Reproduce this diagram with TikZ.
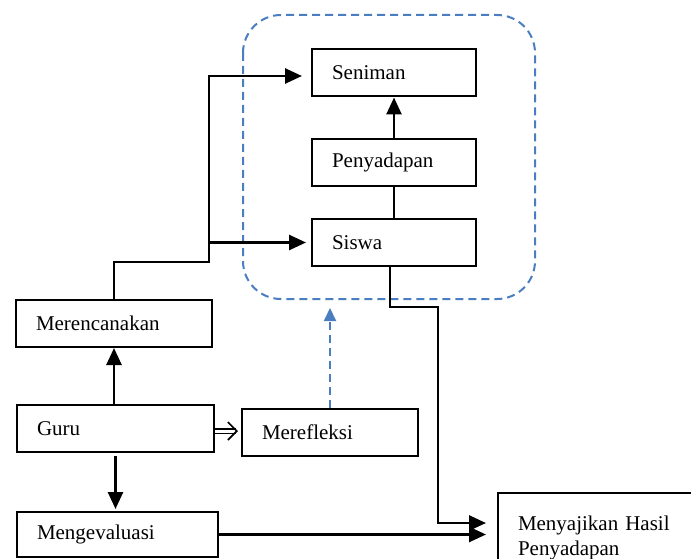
\documentclass[tikz,border=0pt]{standalone}
\usepackage{fontspec}
\setmainfont{Liberation Serif}
\usetikzlibrary{arrows.meta}
\definecolor{dashblue}{RGB}{74,126,193}
\begin{document}
\begin{tikzpicture}[x=1pt,y=-1pt,
  box/.style={draw,line width=2pt,minimum height=47pt,inner xsep=20pt,inner ysep=0pt,align=left,font=\fontsize{21}{25}\selectfont},
  conn/.style={line width=2.6pt,-{Triangle[length=17pt,width=15pt]}},
  blueline/.style={dashblue,line width=2pt,dash pattern=on 8pt off 5pt}]
\useasboundingbox (0,0) rectangle (691,559);
%group frame
\draw[blueline,rounded corners=38pt](243,15) rectangle (535,299);
\coordinate (frameb) at (330,308);
%boxes
\node[box,text width=124pt] (seniman) at (394,73) {Seniman};
\node[box,text width=124pt] (penyadapan) at (394,162.5) {Penyadapan};
\node[box,text width=124pt] (siswa) at (394,242.5) {Siswa};
\node[box,text width=156pt] (merencanakan) at (114,323.5) {Merencanakan};
\node[box,text width=157pt] (guru) at (115.5,428.5) {Guru};
\node[box,text width=136pt] (merefleksi) at (330,432) {Merefleksi};
\node[box,text width=161pt,minimum height=45pt] (mengevaluasi) at (117.5,534.5) {Mengevaluasi};
\node[box,text width=170pt,minimum height=90pt] (menyajikan) at (603,538) {Menyajikan Hasil\\Penyadapan};
%arrows
\coordinate (j1) at (209,262);
\draw[conn,shorten >=9pt](merencanakan.north)|-(j1)|-([yshift=-3pt]seniman.west);
\draw[conn,shorten >=5pt](j1|-siswa.west)--(siswa.west);
\draw[conn](merencanakan.south|-guru.north)--(merencanakan.south);
\draw[conn,shorten <=3pt,shorten >=2pt](guru.south)--(guru.south|-mengevaluasi.north);
\draw[conn](penyadapan.north)--(seniman.south);
\draw[line width=1.5pt](siswa.north)--(penyadapan.south);
\draw[double,line width=1.3pt,double distance=3pt,-{Straight Barb[length=9pt,width=18pt,line width=1.6pt]}](guru.east|-0,431)--([xshift=-3pt]merefleksi.west|-0,431);
\draw[blueline,-{Triangle[length=13pt,width=12pt]}](merefleksi.north)--(frameb);
\coordinate (j2) at (438,307);
\draw[conn,shorten >=11pt]([xshift=-4pt]siswa.south)|-(j2)|-([yshift=15pt]menyajikan.west);
\draw[conn,shorten >=11pt](mengevaluasi.east)--(mengevaluasi.east-|menyajikan.west);
\end{tikzpicture}
\end{document}
